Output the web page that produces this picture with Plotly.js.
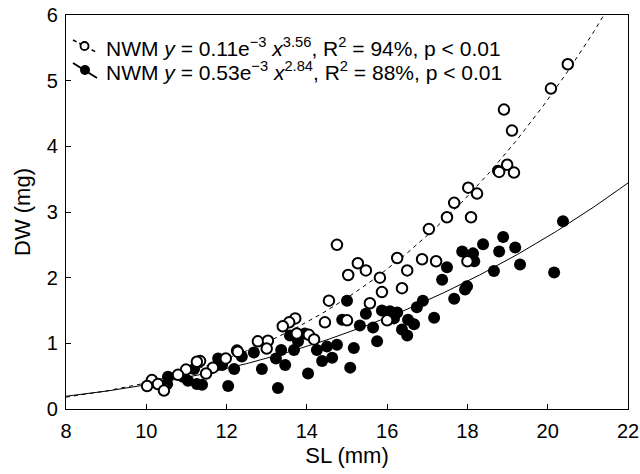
<!DOCTYPE html>
<html>
<head>
<meta charset="utf-8">
<script src="https://cdn.plot.ly/plotly-3.0.1.min.js"></script>
<style>html,body{margin:0;padding:0;background:#fff;}#chart{width:640px;height:474px;}</style>
</head>
<body>
<div id="chart"></div>
<script>
// Open circles (series 1)
const openSL = [20.50,20.08,18.91,19.11,18.99,18.79,19.16,18.02,18.24,17.67,17.49,18.09,17.04,16.25,16.87,17.22,16.50,15.82,16.37,18.00,
  14.75,15.27,15.03,15.47,15.87,14.55,15.57,14.45,15.00,16.00,13.71,13.56,13.40,13.75,14.05,14.18,12.78,13.03,13.00,12.26,
  11.98,11.66,11.49,11.34,12.28,11.26,10.99,10.79,10.14,10.29,10.02,10.44];
const openDW = [5.25,4.88,4.56,4.24,3.72,3.61,3.60,3.37,3.28,3.14,2.92,2.92,2.74,2.30,2.28,2.25,2.11,2.00,1.84,2.25,
  2.50,2.22,2.04,2.11,1.78,1.65,1.61,1.32,1.35,1.35,1.38,1.32,1.26,1.15,1.13,1.06,1.03,1.04,0.92,0.89,
  0.77,0.63,0.54,0.73,0.87,0.72,0.60,0.52,0.44,0.38,0.35,0.28];
// Filled circles (series 2)
const fillSL = [20.38,18.39,18.89,18.79,19.19,19.31,18.66,20.16,17.87,18.14,18.17,17.49,17.37,17.99,17.94,17.67,16.89,16.74,17.17,18.76,
  15.00,14.88,15.32,15.65,15.47,15.87,16.07,16.25,16.52,16.37,16.50,16.17,16.67,15.75,15.17,14.75,14.63,14.38,15.08,14.50,
  14.25,13.68,13.78,13.58,13.95,13.36,13.23,13.46,14.03,12.88,12.68,12.38,11.79,11.89,12.19,11.19,11.04,11.26,11.39,10.54,
  10.52,12.04,13.28,10.91];
const fillDW = [2.86,2.51,2.62,2.40,2.46,2.20,2.10,2.08,2.40,2.37,2.25,2.16,1.97,1.87,1.82,1.68,1.65,1.55,1.39,3.63,
  1.65,1.36,1.27,1.24,1.45,1.50,1.49,1.47,1.36,1.21,1.12,1.38,1.29,1.03,0.93,0.98,0.78,0.73,0.63,0.95,
  0.90,0.90,1.03,1.12,1.15,0.90,0.77,0.67,0.54,0.61,0.86,0.80,0.77,0.67,0.61,0.61,0.43,0.38,0.37,0.49,
  0.38,0.35,0.32,0.49];
// Fitted power-law models y = a * x^b (a in mg, from legend)
const fitA = [0.11e-3, 0.53e-3];
const fitB = [3.56, 2.84];
const xRange = [8, 22];
const yRange = [0, 6];
const xTicks = [8,10,12,14,16,18,20,22];
const yTicks = [0,1,2,3,4,5,6];
const legendTexts = [
  'NWM <i>y</i> = 0.11e<sup>−3</sup> <i>x</i><sup>3.56</sup>, R<sup>2</sup> = 94%, p &lt; 0.01',
  'NWM <i>y</i> = 0.53e<sup>−3</sup> <i>x</i><sup>2.84</sup>, R<sup>2</sup> = 88%, p &lt; 0.01'
];

const fitX = [];
for (let i = 0; i <= 280; i++) fitX.push(xRange[0] + i * (xRange[1] - xRange[0]) / 280);
const fitY = fitA.map((a, k) => fitX.map(x => a * Math.pow(x, fitB[k])));

const traces = [
  {x: fitX, y: fitY[0], mode: 'lines', line: {color: '#000', width: 1, dash: '4px,4px'}, hoverinfo: 'skip'},
  {x: fitX, y: fitY[1], mode: 'lines', line: {color: '#000', width: 1}, hoverinfo: 'skip'},
  {x: fillSL, y: fillDW, mode: 'markers', marker: {symbol: 'circle', size: 12, color: '#000', line: {color: '#000', width: 0}}},
  {x: openSL, y: openDW, mode: 'markers', marker: {symbol: 'circle', size: 10.5, color: '#fff', line: {color: '#000', width: 2}}}
];

const L = 66, T = 15, B = 409, R = 628;
function px2x(p){return (p-L)/(R-L);}
function px2y(p){return (B-p)/(B-T);}

const font = {family: 'Liberation Sans, Arial, Helvetica, sans-serif', color: '#000'};
const layout = {
  width: 640, height: 474,
  margin: {l: L, r: 640 - R, t: T, b: 474 - B},
  paper_bgcolor: '#fff', plot_bgcolor: '#fff',
  showlegend: false,
  font: Object.assign({size: 20}, font),
  xaxis: {range: xRange, tickvals: xTicks, ticks: 'inside', ticklen: 5, tickwidth: 1, tickcolor: '#000',
    showline: true, linecolor: '#000', linewidth: 1.2, mirror: true, showgrid: false, zeroline: false,
    ticklabelstandoff: 4,
    tickfont: Object.assign({size: 20}, font),
    title: {text: 'SL (mm)', font: Object.assign({size: 22}, font), standoff: 6}},
  yaxis: {range: yRange, tickvals: yTicks, ticks: 'inside', ticklen: 5, tickwidth: 1, tickcolor: '#000',
    showline: true, linecolor: '#000', linewidth: 1.2, mirror: true, showgrid: false, zeroline: false,
    ticklabelstandoff: 3,
    tickfont: Object.assign({size: 20}, font),
    title: {text: 'DW (mg)', font: Object.assign({size: 22}, font), standoff: 10}},
  shapes: [
    {type: 'line', xref: 'paper', yref: 'paper', x0: px2x(73), y0: px2y(40), x1: px2x(96), y1: px2y(52), line: {color: '#000', width: 1.5, dash: '4px,3px'}},
    {type: 'circle', xref: 'paper', yref: 'paper', x0: px2x(80.5), y0: px2y(42), x1: px2x(88.5), y1: px2y(50), fillcolor: '#fff', line: {color: '#000', width: 1.8}},
    {type: 'line', xref: 'paper', yref: 'paper', x0: px2x(73), y0: px2y(63), x1: px2x(97), y1: px2y(78), line: {color: '#000', width: 2}},
    {type: 'circle', xref: 'paper', yref: 'paper', x0: px2x(80), y0: px2y(65), x1: px2x(90), y1: px2y(75), fillcolor: '#000', line: {color: '#000', width: 0}}
  ],
  annotations: legendTexts.map((t, i) => ({
    xref: 'paper', yref: 'paper', x: px2x(104), y: px2y(i === 0 ? 47 : 71), xanchor: 'left', yanchor: 'middle', showarrow: false,
    text: t, font: Object.assign({size: 21}, font)
  }))
};

Plotly.newPlot('chart', traces, layout, {staticPlot: true, displayModeBar: false});
</script>
</body>
</html>
